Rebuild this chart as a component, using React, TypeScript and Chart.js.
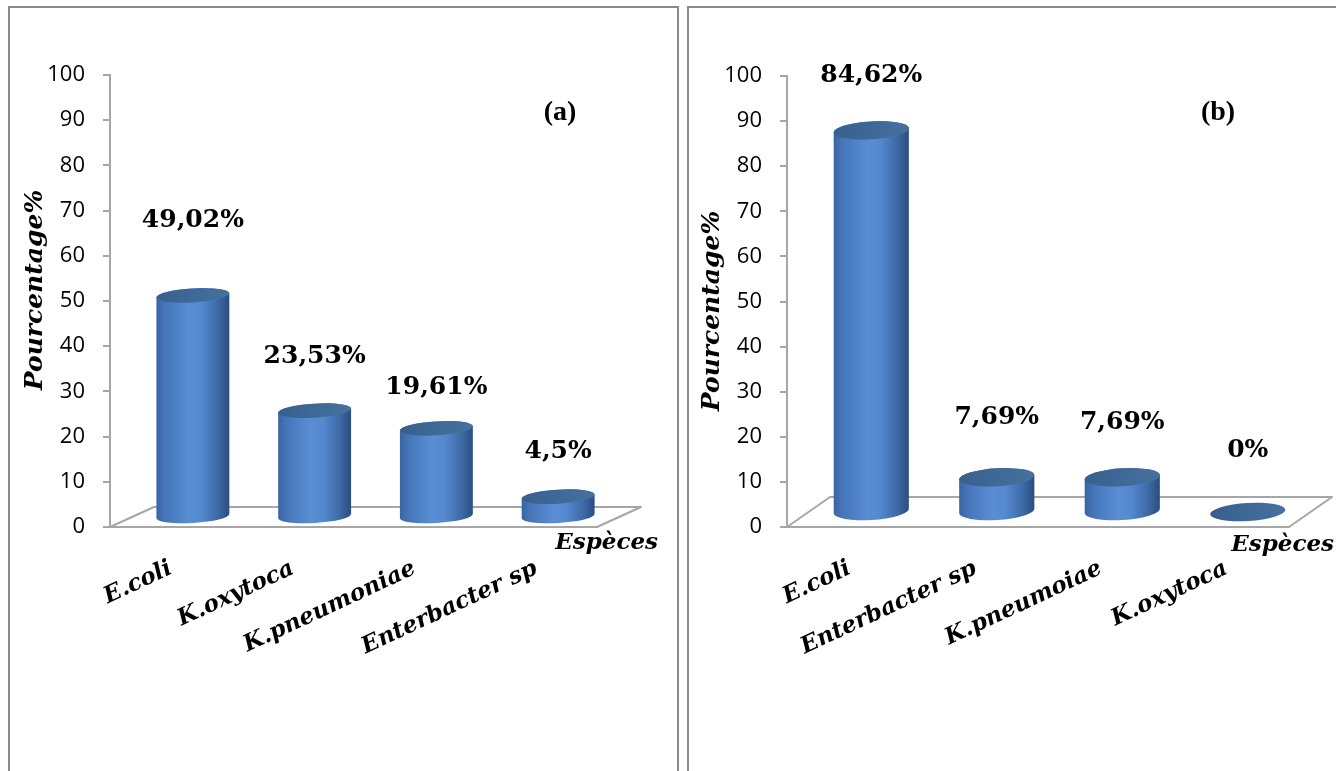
import React, { useEffect, useRef } from "react";
import { Chart, registerables } from "chart.js";
Chart.register(...registerables);

// ---- data ----
const categoriesA = ["E.coli", "K.oxytoca", "K.pneumoniae", "Enterbacter sp"];
const valuesA = [49.02, 23.53, 19.61, 4.5];
const valueLabelsA = ["49,02%", "23,53%", "19,61%", "4,5%"];

const categoriesB = ["E.coli", "Enterbacter sp", "K.pneumoiae", "K.oxytoca"];
const valuesB = [84.62, 7.69, 7.69, 0];
const valueLabelsB = ["84,62%", "7,69%", "7,69%", "0%"];

const yMin = 0;
const yMax = 100;
const yStep = 10;
const yAxisTitle = "Pourcentage%";
const xAxisTitle = "Espèces";

// ---- styling / layout config ----
const AXIS_GRAY = "#a6a6a6";
const SERIF = "'DejaVu Serif', serif";
const SANS = "'Open Sans', sans-serif";

type PanelCfg = {
  pageLeft: number;
  pageTop: number;
  width: number;
  height: number;
  area: { left: number; right: number; top: number; bottom: number };
  depth: [number, number];
  ry: number;
  labelOffsets: number[];
  tag: string;
  tagPos: [number, number];
  xTitlePos: [number, number];
  yTitleX: number;
  yTitleY: number;
};

const panelA: PanelCfg = {
  pageLeft: 10,
  pageTop: 8,
  width: 667,
  height: 763,
  area: { left: 100, right: 587, top: 67, bottom: 519 },
  depth: [44, -20],
  ry: 7,
  labelOffsets: [75, 54, 41, 45],
  tag: "(a)",
  tagPos: [550, 105],
  xTitlePos: [648, 535],
  yTitleX: 25,
  yTitleY: 282,
};

const panelB: PanelCfg = {
  pageLeft: 689,
  pageTop: 8,
  width: 647,
  height: 763,
  area: { left: 98, right: 600, top: 68, bottom: 519 },
  depth: [43, -30],
  ry: 9,
  labelOffsets: [55, 60, 55, 62],
  tag: "(b)",
  tagPos: [529, 105],
  xTitlePos: [645, 537],
  yTitleX: 23,
  yTitleY: 303,
};

const TILT = -0.06;

const cylinderPlugin = {
  id: "cylinder3d",
  beforeDatasetsDraw(chart: any, _args: any, opts: any) {
    const { ctx, chartArea } = chart;
    const [dx, dy] = opts.depth;
    const x0 = chartArea.left;
    const x1 = chartArea.right;
    const y = chartArea.bottom;
    ctx.save();
    ctx.beginPath();
    ctx.moveTo(x0, y);
    ctx.lineTo(x0 + dx, y + dy);
    ctx.lineTo(x1 + dx, y + dy);
    ctx.lineTo(x1, y);
    ctx.closePath();
    ctx.fillStyle = "#ffffff";
    ctx.fill();
    ctx.strokeStyle = AXIS_GRAY;
    ctx.lineWidth = 2;
    ctx.lineJoin = "round";
    ctx.stroke();
    ctx.restore();
  },
  afterDatasetsDraw(chart: any, _args: any, opts: any) {
    const { ctx } = chart;
    const [dx, dy] = opts.depth;
    const ry = opts.ry;
    const meta = chart.getDatasetMeta(0);
    ctx.save();
    meta.data.forEach((bar: any) => {
      const p = bar.getProps(["x", "y", "base", "width"], true);
      const cx = p.x + dx / 2;
      const yb = p.base + dy / 2;
      const yt = p.y + dy / 2;
      const rx = p.width / 2;
      if (yb - yt > 0.5) {
        const g = ctx.createLinearGradient(cx - rx, 0, cx + rx, 0);
        g.addColorStop(0, "#3a65a0");
        g.addColorStop(0.12, "#4676b9");
        g.addColorStop(0.45, "#598dd4");
        g.addColorStop(0.62, "#5488cf");
        g.addColorStop(0.85, "#3d69a5");
        g.addColorStop(1, "#2a4d80");
        ctx.beginPath();
        ctx.ellipse(cx, yb, rx, ry, TILT, Math.PI, 0, true);
        ctx.ellipse(cx, yt, rx, ry, TILT, 0, Math.PI, true);
        ctx.closePath();
        ctx.fillStyle = g;
        ctx.fill();
      }
      const gt = ctx.createLinearGradient(cx - rx, yt - ry, cx + rx, yt + ry);
      gt.addColorStop(0, "#375f8e");
      gt.addColorStop(1, "#46729f");
      ctx.beginPath();
      ctx.ellipse(cx, yt, rx, ry, TILT, 0, Math.PI * 2);
      ctx.fillStyle = gt;
      ctx.fill();
    });
    ctx.restore();
  },
  afterDraw(chart: any, _args: any, opts: any) {
    const { ctx } = chart;
    const [dx, dy] = opts.depth;
    const meta = chart.getDatasetMeta(0);
    ctx.save();
    ctx.fillStyle = "#000";
    ctx.textAlign = "center";
    ctx.textBaseline = "middle";
    ctx.font = `bold 25px ${SERIF}`;
    meta.data.forEach((bar: any, i: number) => {
      const p = bar.getProps(["x", "y"], true);
      const cx = p.x + dx / 2;
      const yt = p.y + dy / 2;
      ctx.fillText(opts.valueLabels[i], cx, yt - opts.labelOffsets[i]);
    });
    // panel tag
    ctx.font = `bold 28px 'Liberation Serif', serif`;
    ctx.fillText(opts.tag, opts.tagPos[0], opts.tagPos[1]);
    // x title
    ctx.font = `italic bold 23px ${SERIF}`;
    ctx.textAlign = "right";
    ctx.fillText(xAxisTitle, opts.xTitlePos[0], opts.xTitlePos[1]);
    // y title
    ctx.translate(opts.yTitleX, opts.yTitleY);
    ctx.rotate(-Math.PI / 2);
    ctx.textAlign = "center";
    ctx.font = `italic bold 25px ${SERIF}`;
    ctx.fillText(yAxisTitle, 0, 0);
    ctx.restore();
  },
};

function Panel({
  cfg,
  categories,
  values,
  valueLabels,
}: {
  cfg: PanelCfg;
  categories: string[];
  values: number[];
  valueLabels: string[];
}) {
  const ref = useRef<HTMLCanvasElement | null>(null);
  useEffect(() => {
    if (!ref.current) return;
    const a = cfg.area;
    const chart = new Chart(ref.current, {
      type: "bar",
      data: {
        labels: categories,
        datasets: [
          {
            data: values,
            backgroundColor: "rgba(0,0,0,0)",
            borderWidth: 0,
            barPercentage: 0.6,
            categoryPercentage: 1,
          },
        ],
      },
      options: {
        animation: false,
        responsive: false,
        maintainAspectRatio: false,
        layout: {
          padding: {
            left: 0,
            top: a.top,
            right: cfg.width - a.right,
            bottom: 0,
          },
        },
        plugins: {
          legend: { display: false },
          tooltip: { enabled: false },
          cylinder3d: {
            depth: cfg.depth,
            ry: cfg.ry,
            valueLabels,
            labelOffsets: cfg.labelOffsets,
            tag: cfg.tag,
            tagPos: cfg.tagPos,
            xTitlePos: cfg.xTitlePos,
            yTitleX: cfg.yTitleX,
            yTitleY: cfg.yTitleY,
          },
        } as any,
        scales: {
          y: {
            min: yMin,
            max: yMax,
            ticks: {
              stepSize: yStep,
              color: "#000",
              font: { family: SANS, size: 22 },
              padding: 18,
            },
            grid: {
              display: true,
              drawOnChartArea: false,
              drawTicks: true,
              tickLength: 7,
              color: AXIS_GRAY,
              lineWidth: 2,
            },
            border: { display: true, color: AXIS_GRAY, width: 2 },
            afterFit: (s: any) => {
              s.width = a.left;
            },
          },
          x: {
            ticks: {
              color: "#000",
              font: { family: SERIF, size: 23, style: "italic", weight: "bold" },
              minRotation: 25,
              maxRotation: 25,
              autoSkip: false,
              padding: 20,
            },
            grid: { display: false },
            border: { display: true, color: AXIS_GRAY, width: 2 },
            afterFit: (s: any) => {
              s.height = cfg.height - a.bottom;
            },
          },
        },
      },
      plugins: [cylinderPlugin],
    });
    return () => chart.destroy();
  }, []);

  return (
    <div
      style={{
        position: "absolute",
        left: cfg.pageLeft - 2,
        top: cfg.pageTop - 2,
        width: cfg.width,
        height: cfg.height + 20,
        border: "2px solid #8a8a8a",
        background: "#fff",
      }}
    >
      <canvas
        ref={ref}
        width={cfg.width}
        height={cfg.height}
        style={{ position: "absolute", left: 0, top: 0, width: cfg.width, height: cfg.height }}
      />
    </div>
  );
}

export default function App() {
  return (
    <div
      style={{
        position: "fixed",
        left: 0,
        top: 0,
        width: 1336,
        height: 771,
        overflow: "hidden",
        background: "#fff",
      }}
    >
      <Panel cfg={panelA} categories={categoriesA} values={valuesA} valueLabels={valueLabelsA} />
      <Panel cfg={panelB} categories={categoriesB} values={valuesB} valueLabels={valueLabelsB} />
    </div>
  );
}
